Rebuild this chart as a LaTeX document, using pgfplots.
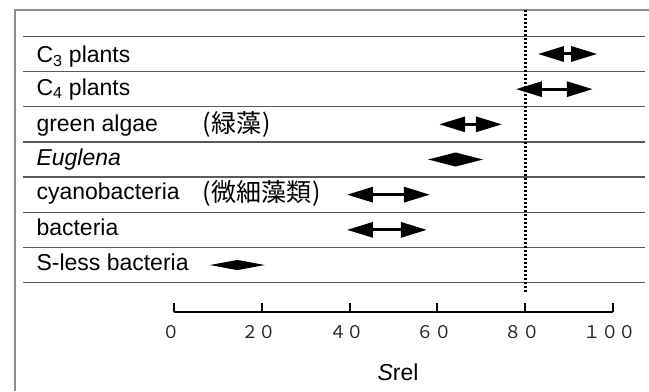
\documentclass[border=0pt]{standalone}
\usepackage{fontspec}
\setmainfont{Liberation Sans}
\newfontfamily\cjk{Noto Sans CJK JP}
\usepackage{pgfplots}
\pgfplotsset{compat=1.18}
\usetikzlibrary{arrows.meta}
\newcommand\lab{\fontsize{23bp}{26bp}\selectfont}
\newcommand\jlab{\cjk\fontsize{25bp}{28bp}\selectfont}
\tikzset{dbl/.style={line width=3bp,arrows={Triangle[length=26bp,width=15bp]-Triangle[length=26bp,width=15bp]}}}
\begin{document}
\begin{tikzpicture}
\begin{axis}[
  scale only axis, width=439bp, height=302bp,
  xmin=0, xmax=100, ymin=-0.336, ymax=8.25,
  axis x line=bottom, axis y line=none,
  x axis line style={-, line width=2bp, black},
  xtick={0,20,40,60,80,100},
  xticklabels={０,２０,４０,６０,８０,１００},
  xtick align=inside,
  major tick length=9bp,
  tick style={line width=2bp, black},
  xticklabel style={font=\cjk\fontsize{17.5bp}{18bp}\selectfont, anchor=base, yshift=-26bp, xshift=-3bp, text=black!85},
  clip=false,
]
% frame
\addplot[black!45, line width=2bp] coordinates {(-36.22,-2.583) (-36.22,8.25) (108.2,8.25)};
% row separators
\addplot[black!65, line width=1.5bp] coordinates {(-34.4,7.5) (107.29,7.5)};
\addplot[black!65, line width=1.5bp] coordinates {(-34.4,6.5) (107.29,6.5)};
\addplot[black!65, line width=1.5bp] coordinates {(-34.4,5.5) (107.29,5.5)};
\addplot[black!65, line width=1.5bp] coordinates {(-34.4,4.5) (107.29,4.5)};
\addplot[black!65, line width=1.5bp] coordinates {(-34.4,3.5) (107.29,3.5)};
\addplot[black!65, line width=1.5bp] coordinates {(-34.4,2.5) (107.29,2.5)};
\addplot[black!65, line width=1.5bp] coordinates {(-34.4,1.5) (107.29,1.5)};
\addplot[black!65, line width=1.5bp] coordinates {(-34.4,0.5) (107.29,0.5)};
% dotted reference line at 80
\addplot[black, line width=2.8bp, dash pattern=on 2bp off 2bp] coordinates {(80,0.232) (80,8.25)};
% ranges
\addplot[dbl] coordinates {(82.9,7) (96.4,7)};   % C3 plants
\addplot[dbl] coordinates {(77.9,6) (95.4,6)};   % C4 plants
\addplot[dbl] coordinates {(60.4,5) (74.7,5)};   % green algae
\addplot[fill=black, draw=none] coordinates {(57.9,4) (64.15,4.2) (70.4,4) (64.15,3.8)} -- cycle; % Euglena
\addplot[dbl] coordinates {(39.4,3) (58.3,3)};   % cyanobacteria
\addplot[dbl] coordinates {(39.4,2) (57.6,2)};   % bacteria
\addplot[fill=black, draw=none] coordinates {(8.2,1) (14.45,1.145) (20.7,1) (14.45,0.855)} -- cycle; % S-less bacteria
% labels
\node[anchor=base west, font=\lab] at (axis cs:-32.12,6.75) {C\textsubscript{3} plants};
\node[anchor=base west, font=\lab] at (axis cs:-32.12,5.83) {C\textsubscript{4} plants};
\node[anchor=base west, font=\lab] at (axis cs:-32.12,4.81) {green algae};
\node[anchor=base west, font=\lab] at (axis cs:-32.12,3.83) {\textit{Euglena}};
\node[anchor=base west, font=\lab] at (axis cs:-32.12,2.85) {cyanobacteria};
\node[anchor=base west, font=\lab] at (axis cs:-32.12,1.83) {bacteria};
\node[anchor=base west, font=\lab] at (axis cs:-32.12,0.85) {S-less bacteria};
\node[anchor=base west, font=\jlab] at (axis cs:5.6,4.77) {(\kern1bp 緑藻\kern1bp)};
\node[anchor=base west, font=\jlab] at (axis cs:5.6,2.8) {(\kern1bp 微細藻類\kern1bp)};
\node[anchor=base, font=\lab] at (axis cs:51.03,-2.27) {\textit{S}rel};
\coordinate (bbsw) at (axis cs:-39.636,-2.583);
\coordinate (bbne) at (axis cs:108.2,8.535);
\end{axis}
\pgfresetboundingbox
\path (bbsw) rectangle (bbne);
\end{tikzpicture}
\end{document}
